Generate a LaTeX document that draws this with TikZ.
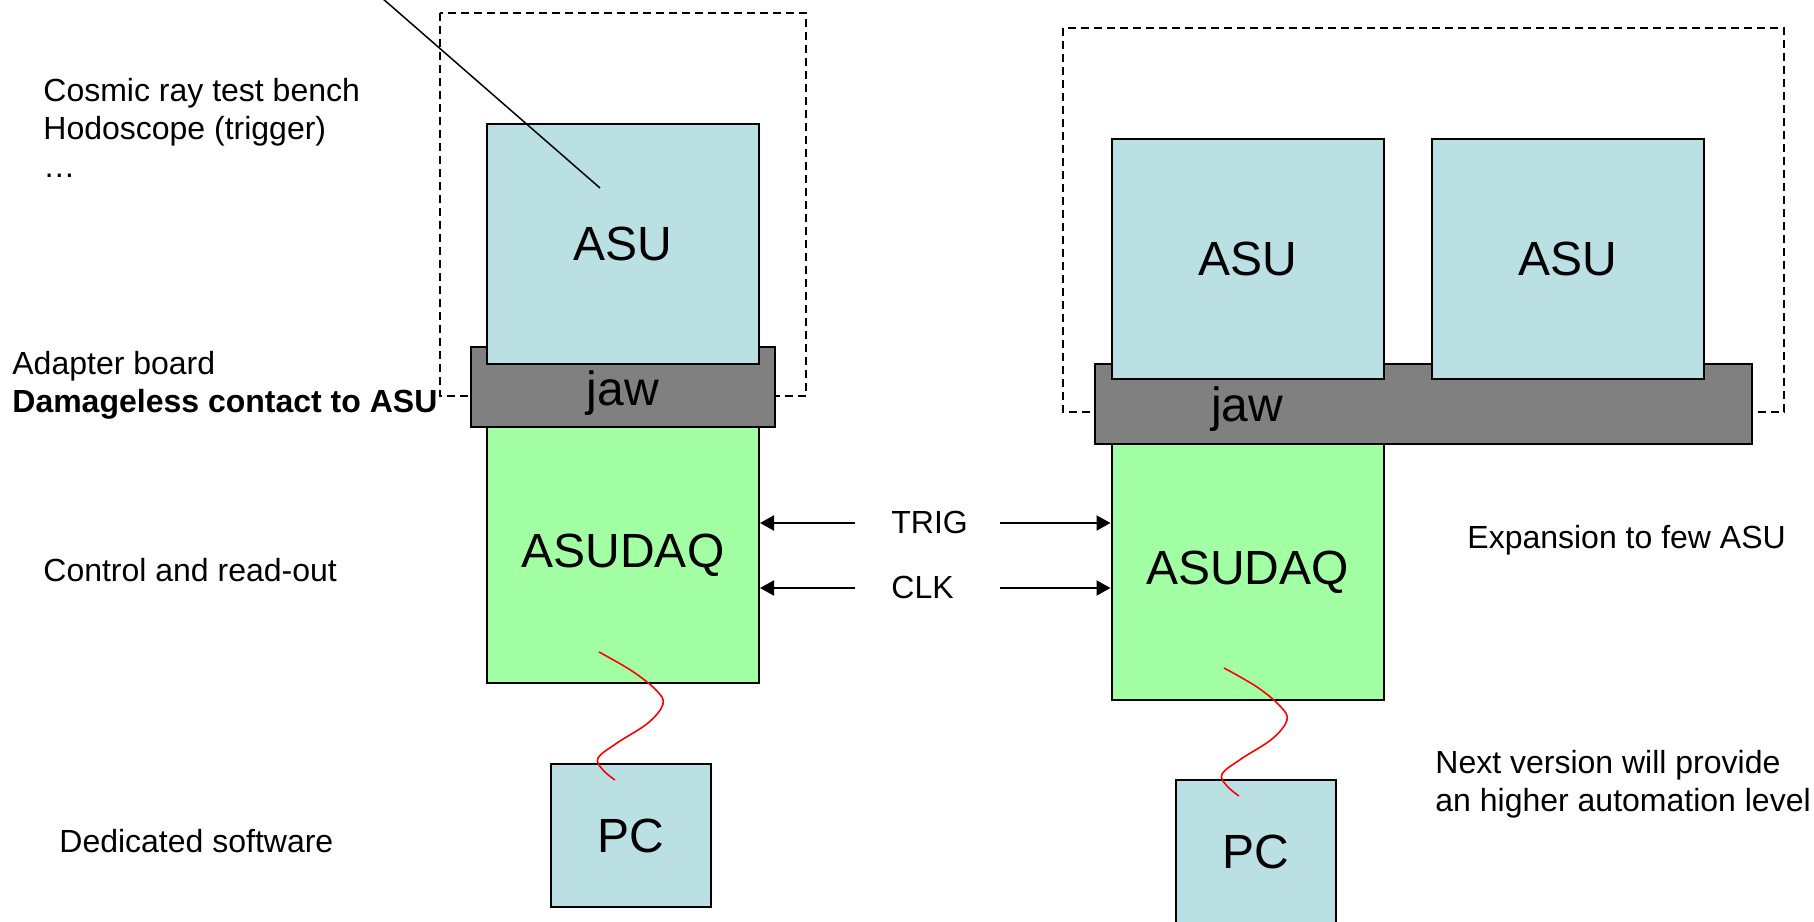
\documentclass[tikz,border=0pt]{standalone}
\usepackage{fontspec}
\setmainfont{Liberation Sans}
\usetikzlibrary{arrows.meta}
\definecolor{asublue}{RGB}{187,224,227}
\definecolor{daqgreen}{RGB}{163,255,163}
\definecolor{jawgray}{RGB}{128,128,128}
\begin{document}
\begin{tikzpicture}[x=0.5pt,y=-0.5pt,
  box/.style={draw,line width=1pt,inner sep=0pt,font=\fontsize{24}{28}\selectfont},
  asu/.style={box,fill=asublue,minimum width=136pt,minimum height=120pt},
  daq/.style={box,fill=daqgreen,minimum width=136pt,minimum height=128pt},
  jaw/.style={box,fill=jawgray,minimum height=40pt},
  pc/.style={box,fill=asublue,minimum width=80pt,minimum height=71.5pt},
  big/.style={inner sep=0pt,font=\fontsize{24}{28}\selectfont},
  note/.style={anchor=west,align=left,inner sep=0pt,font=\fontsize{16}{19}\selectfont},
  frame/.style={line width=0.75pt,dash pattern=on 4pt off 2.5pt},
  sig/.style={line width=1pt,-{Triangle[length=7pt,width=7.5pt]}},
  cable/.style={red,line width=0.8pt}]
\useasboundingbox (0,0) rectangle (1814,921);
\fill[white] (0,0) rectangle (1814,921);
\clip (0,0) rectangle (1814,921);

% single ASU
\draw[frame] (440,13) rectangle (806,396);
\node[jaw,minimum width=152pt] (jawL) at (623,387) {};
\node[big] (jawLtxt) at (623,393) {jaw};
\node[asu] (asuL) at (623,243.5) {ASU};
\node[daq] (daqL) at (623,555) {ASUDAQ};
\node[pc] (pcL) at (631,835.5) {PC};
\coordinate (ptrA) at (382,-2);
\coordinate (ptrB) at (600,188);
\draw[line width=0.75pt] (ptrA) -- (ptrB);
\coordinate (cabL) at (599,652);
\coordinate (cabLe) at (615,780);
\draw[cable] plot[smooth,tension=0.6] coordinates {(cabL) (632,671) (656,690) (663,704) (648,723) (617,743) (598,758) (603,770) (cabLe)};

% few ASU
\draw[frame] (1063,28) rectangle (1784,412);
\node[jaw,minimum width=328.5pt] (jawR) at (1423.5,403.5) {};
\node[big] (jawRtxt) at (1247,409) {jaw};
\node[asu] (asuRa) at (1247.5,259) {ASU};
\node[asu] (asuRb) at (1568,259) {ASU};
\node[daq] (daqR) at (1247.5,572) {ASUDAQ};
\node[pc] (pcR) at (1255.5,851.5) {PC};
\coordinate (cabR) at (1224,668);
\coordinate (cabRe) at (1239,796);
\draw[cable] plot[smooth,tension=0.6] coordinates {(cabR) (1257,687) (1280,706) (1287,720) (1272,739) (1241,759) (1222,774) (1227,786) (cabRe)};

% TRIG and CLK
\node[note] (trig) at (891,522) {TRIG};
\node[note] (clk) at (891,587) {CLK};
\coordinate (trigL) at (855,523);
\coordinate (clkL) at (855,588);
\coordinate (trigR) at (1000,523);
\coordinate (clkR) at (1000,588);
\draw[sig] (trigL) -- (daqL.east |- trigL);
\draw[sig] (clkL) -- (daqL.east |- clkL);
\draw[sig] (trigR) -- (daqR.west |- trigR);
\draw[sig] (clkR) -- (daqR.west |- clkR);

% comments
\node[note] (bench) at (43,128) {Cosmic ray test bench\\Hodoscope (trigger)\\…};
\node[note] (adapter) at (12,385) {Adapter board\\\textbf{Damageless contact to ASU}};
\node[note] (ctrl) at (43,570) {Control and read-out};
\node[note] (soft) at (59,841) {Dedicated software};
\node[note] (expand) at (1467,540) {Expansion to few ASU};
\node[note] (next) at (1435,784) {Next version will provide\\an higher automation level};
\end{tikzpicture}
\end{document}
